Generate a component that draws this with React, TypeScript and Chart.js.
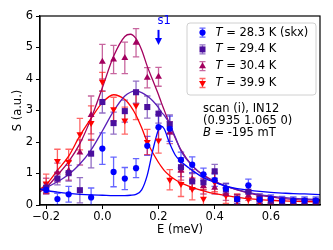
import React, { useEffect, useRef } from 'react';
import { Chart, registerables } from 'chart.js';
Chart.register(...registerables);

// measured energies (meV)
const E = [-0.2, -0.16, -0.12, -0.08, -0.04, 0.0, 0.04, 0.08, 0.12, 0.16, 0.2, 0.24, 0.28, 0.32, 0.36, 0.4, 0.44, 0.48, 0.52, 0.56, 0.6, 0.64, 0.68, 0.72, 0.76];

// T = 28.3 K (skx)
const S_283 = [0.48, 0.19, 0.34, null, 0.24, 1.79, 1.05, 0.84, 1.17, 1.88, 2.47, 2.42, 1.43, 1.28, 0.97, 0.79, 0.52, 0.18, 0.62, 0.17, 0.2, 0.15, 0.14, 0.14, 0.14];
const ERR_283 = [0.12, 0.18, 0.25, 0, 0.3, 0.5, 0.47, 0.35, 0.3, 0.3, 0.4, 0.4, 0.25, 0.25, 0.2, 0.2, 0.15, 0.15, 0.2, 0.12, 0.12, 0.12, 0.12, 0.12, 0.12];
// T = 29.4 K
const S_294 = [0.55, 0.84, 1.01, 0.47, 1.63, 3.27, 2.6, 2.98, 3.58, 3.11, 2.9, 2.56, 1.2, 0.75, 0.72, 1.07, 0.49, 0.19, 0.42, 0.21, 0.14, 0.1, 0.12, 0.12, 0.12];
const ERR_294 = [0.15, 0.2, 0.25, 0.4, 0.45, 0.35, 0.35, 0.35, 0.35, 0.35, 0.3, 0.3, 0.3, 0.25, 0.25, 0.22, 0.2, 0.15, 0.2, 0.15, 0.12, 0.1, 0.1, 0.1, 0.1];
// T = 30.4 K
const S_304 = [0.6, 1.03, 1.09, 1.67, 2.86, 4.55, 4.62, 4.67, 5.15, 4.04, 4.07, 2.3, 1.09, 0.82, 0.6, 0.55, 0.35, 0.15, 0.3, 0.15, 0.1, 0.08, 0.1, 0.08, 0.08];
const ERR_304 = [0.25, 0.3, 0.3, 0.4, 0.6, 0.55, 0.45, 0.5, 0.45, 0.32, 0.3, 0.35, 0.3, 0.3, 0.25, 0.2, 0.2, 0.15, 0.15, 0.12, 0.1, 0.1, 0.1, 0.1, 0.1];
// T = 39.9 K
const S_399 = [0.68, 1.4, 1.37, 2.25, 2.6, 3.91, 3.04, 2.68, 3.16, 2.0, 2.05, 0.8, 0.67, 0.51, 0.2, 0.72, 0.3, 0.15, 0.18, 0.1, 0.12, 0.1, 0.05, 0.08, 0.05];
const ERR_399 = [0.3, 0.37, 0.4, 0.5, 0.55, 0.3, 0.38, 0.43, 0.45, 0.4, 0.4, 0.32, 0.4, 0.35, 0.3, 0.3, 0.25, 0.2, 0.2, 0.15, 0.15, 0.12, 0.12, 0.12, 0.12];

// fit curves
const FIT_E = [-0.222, -0.2, -0.16, -0.12, -0.08, -0.04, 0, 0.04, 0.08, 0.1, 0.12, 0.14, 0.16, 0.18, 0.2, 0.21, 0.22, 0.24, 0.26, 0.28, 0.32, 0.36, 0.4, 0.44, 0.48, 0.52, 0.56, 0.6, 0.64, 0.68, 0.72, 0.775];
const FIT_283 = [0.5, 0.46, 0.41, 0.37, 0.34, 0.32, 0.31, 0.3, 0.3, 0.31, 0.34, 0.48, 0.95, 1.75, 2.4, 2.5, 2.42, 1.95, 1.58, 1.38, 1.1, 0.87, 0.72, 0.6, 0.52, 0.47, 0.43, 0.4, 0.38, 0.36, 0.35, 0.33];
const FIT_294 = [0.5, 0.56, 0.74, 0.97, 1.3, 1.75, 2.35, 2.98, 3.46, 3.58, 3.62, 3.57, 3.46, 3.3, 3.09, 2.95, 2.85, 2.56, 2.15, 1.72, 1.25, 0.93, 0.74, 0.6, 0.49, 0.4, 0.33, 0.28, 0.24, 0.21, 0.19, 0.17];
const FIT_304 = [0.42, 0.55, 0.95, 1.38, 1.95, 2.75, 3.72, 4.72, 5.35, 5.42, 5.28, 4.92, 4.4, 3.95, 3.5, 3.25, 3.02, 2.55, 2.12, 1.75, 1.25, 0.95, 0.75, 0.6, 0.48, 0.38, 0.31, 0.26, 0.21, 0.18, 0.16, 0.15];
const FIT_399 = [0.5, 0.65, 1.1, 1.55, 2.2, 2.75, 3.25, 3.5, 3.35, 3.15, 2.85, 2.45, 2.0, 1.65, 1.35, 1.22, 1.1, 0.93, 0.8, 0.7, 0.56, 0.45, 0.36, 0.3, 0.24, 0.2, 0.17, 0.15, 0.13, 0.12, 0.11, 0.1];

const X_TICKS = [-0.2, 0.0, 0.2, 0.4, 0.6];
const LEGEND_LABELS = ['28.3 K (skx)', '29.4 K', '30.4 K', '39.9 K'];
const NOTES = ['scan (i), IN12', '(0.935 1.065 0)'];
const FIELD = ' = -195 mT';
const S1 = { e: 0.2, label: 's1', textY: 5.83, top: 5.56, tip: 5.08 };
const NOTE_POS = { e: 0.358, y: [3.04, 2.66, 2.27] };

const COLORS = ['#0000ff', '#4b0f9e', '#a3005f', '#ff0000'];
const ERR_COLORS = ['rgba(0,0,255,0.6)', 'rgba(75,15,158,0.6)', 'rgba(163,0,95,0.6)', 'rgba(255,0,0,0.6)'];
const LINE_COLORS = ['#0000ff', '#5a1fb8', '#a3005f', '#ff0000'];
const FONT = 'DejaVu Sans';

const pts = (xs: number[], ys: (number | null)[]) => xs.map((x, i) => ({ x, y: ys[i] }));

function drawMarker(ctx: CanvasRenderingContext2D, kind: number, x: number, y: number, color: string) {
  ctx.fillStyle = color;
  ctx.beginPath();
  if (kind === 0) {
    ctx.arc(x, y, 3.1, 0, Math.PI * 2);
  } else if (kind === 1) {
    ctx.rect(x - 3, y - 3, 6, 6);
  } else if (kind === 2) {
    ctx.moveTo(x, y - 4); ctx.lineTo(x + 3.5, y + 2); ctx.lineTo(x - 3.5, y + 2); ctx.closePath();
  } else {
    ctx.moveTo(x, y + 4); ctx.lineTo(x + 3.5, y - 2); ctx.lineTo(x - 3.5, y - 2); ctx.closePath();
  }
  ctx.fill();
}

const errorBarPlugin = {
  id: 'errbars',
  beforeDatasetsDraw(chart: any) {
    const { ctx, chartArea, scales } = chart;
    const x = scales.x, y = scales.y;
    ctx.save();
    ctx.beginPath();
    ctx.rect(chartArea.left, chartArea.top, chartArea.right - chartArea.left, chartArea.bottom - chartArea.top);
    ctx.clip();
    chart.data.datasets.forEach((ds: any) => {
      if (!ds.errs) return;
      ctx.strokeStyle = ds.errColor;
      ctx.lineWidth = 1.3;
      ds.data.forEach((p: any, i: number) => {
        if (p.y == null) return;
        const e = ds.errs[i];
        const px = x.getPixelForValue(p.x);
        const y1 = y.getPixelForValue(p.y - e);
        const y2 = y.getPixelForValue(p.y + e);
        ctx.beginPath();
        ctx.moveTo(px, y1); ctx.lineTo(px, y2);
        ctx.moveTo(px - 3.2, y1); ctx.lineTo(px + 3.2, y1);
        ctx.moveTo(px - 3.2, y2); ctx.lineTo(px + 3.2, y2);
        ctx.stroke();
      });
    });
    ctx.restore();
  },
};

const decorPlugin = {
  id: 'decor',
  afterDraw(chart: any) {
    const { ctx, chartArea, scales } = chart;
    const x = scales.x, y = scales.y;
    ctx.save();
    // frame
    ctx.strokeStyle = '#000';
    ctx.lineWidth = 1.2;
    ctx.strokeRect(chartArea.left, chartArea.top, chartArea.right - chartArea.left, chartArea.bottom - chartArea.top);

    // s1 arrow and label
    const ax = x.getPixelForValue(S1.e);
    const yTop = y.getPixelForValue(S1.top);
    const yTip = y.getPixelForValue(S1.tip);
    ctx.strokeStyle = '#0000ff';
    ctx.fillStyle = '#0000ff';
    ctx.lineWidth = 2;
    ctx.beginPath();
    ctx.moveTo(ax, yTop); ctx.lineTo(ax, yTip - 5);
    ctx.stroke();
    ctx.beginPath();
    ctx.moveTo(ax - 3.5, yTip - 7); ctx.lineTo(ax + 3.5, yTip - 7); ctx.lineTo(ax, yTip); ctx.closePath();
    ctx.fill();
    ctx.font = `11.5px ${FONT}`;
    ctx.textBaseline = 'middle';
    ctx.textAlign = 'left';
    ctx.fillText(S1.label, ax - 1, y.getPixelForValue(S1.textY));

    // legend
    const lw = 129, lh = 72;
    const lx = chartArea.right - 4 - lw;
    const ly = chartArea.top + 7;
    ctx.beginPath();
    if ((ctx as any).roundRect) (ctx as any).roundRect(lx, ly, lw, lh, 3); else ctx.rect(lx, ly, lw, lh);
    ctx.fillStyle = 'rgba(255,255,255,0.85)';
    ctx.fill();
    ctx.strokeStyle = '#d0d0d0';
    ctx.lineWidth = 1;
    ctx.stroke();
    LEGEND_LABELS.forEach((lab, i) => {
      const ry = ly + 9.6 + i * 16.8;
      const mx = lx + 15.5;
      ctx.strokeStyle = ERR_COLORS[i];
      ctx.lineWidth = 1.3;
      ctx.beginPath();
      ctx.moveTo(mx, ry - 4.5); ctx.lineTo(mx, ry + 4.5);
      ctx.moveTo(mx - 3, ry - 4.5); ctx.lineTo(mx + 3, ry - 4.5);
      ctx.moveTo(mx - 3, ry + 4.5); ctx.lineTo(mx + 3, ry + 4.5);
      ctx.stroke();
      drawMarker(ctx, i, mx, ry, COLORS[i]);
      ctx.fillStyle = '#000';
      ctx.font = `italic 11.5px ${FONT}`;
      const tx = lx + 28.5;
      ctx.fillText('T', tx, ry);
      const tw = ctx.measureText('T').width;
      ctx.font = `11.5px ${FONT}`;
      ctx.fillText(' = ' + lab, tx + tw, ry);
    });

    // notes
    const nx = x.getPixelForValue(NOTE_POS.e);
    ctx.fillStyle = '#000';
    ctx.font = `11.5px ${FONT}`;
    NOTES.forEach((t, i) => ctx.fillText(t, nx, y.getPixelForValue(NOTE_POS.y[i])));
    ctx.font = `italic 11.5px ${FONT}`;
    const by = y.getPixelForValue(NOTE_POS.y[2]);
    ctx.fillText('B', nx, by);
    const bw = ctx.measureText('B').width;
    ctx.font = `11.5px ${FONT}`;
    ctx.fillText(FIELD, nx + bw, by);
    ctx.restore();
  },
};

export default function App() {
  const ref = useRef<HTMLCanvasElement>(null);
  useEffect(() => {
    if (!ref.current) return;
    Chart.defaults.font.family = FONT;
    const markerSets = [
      { d: S_283, e: ERR_283, style: 'circle', r: 3.1, rot: 0, order: 1 },
      { d: S_294, e: ERR_294, style: 'rect', r: 4.3, rot: 0, order: 2 },
      { d: S_304, e: ERR_304, style: 'triangle', r: 4, rot: 0, order: 3 },
      { d: S_399, e: ERR_399, style: 'triangle', r: 4, rot: 180, order: 4 },
    ].map((m, i) => ({
      type: 'line' as const,
      data: pts(E, m.d),
      showLine: false,
      pointStyle: m.style,
      pointRadius: m.r,
      pointRotation: m.rot,
      pointBackgroundColor: COLORS[i],
      pointBorderColor: COLORS[i],
      pointBorderWidth: 0,
      errs: m.e,
      errColor: ERR_COLORS[i],
      order: m.order,
    }));
    const fitSets = [FIT_283, FIT_294, FIT_304, FIT_399].map((f, i) => ({
      type: 'line' as const,
      data: pts(FIT_E, f),
      borderColor: LINE_COLORS[i],
      borderWidth: 1.3,
      pointRadius: 0,
      cubicInterpolationMode: 'monotone' as const,
      order: 10 + i,
    }));
    const chart = new Chart(ref.current, {
      type: 'line',
      data: { datasets: [...markerSets, ...fitSets] as any },
      options: {
        animation: false,
        responsive: false,
        devicePixelRatio: 1,
        events: [],
        layout: { padding: { left: 0, right: 13, top: 16, bottom: 0 } },
        plugins: { legend: { display: false }, tooltip: { enabled: false } },
        scales: {
          x: {
            type: 'linear',
            min: -0.222,
            max: 0.775,
            afterBuildTicks: (s: any) => { s.ticks = X_TICKS.map((v) => ({ value: v })); },
            afterFit: (s: any) => { s.height = 45; },
            ticks: {
              color: '#000',
              font: { size: 11.5, family: FONT },
              padding: 1,
              maxRotation: 0,
              autoSkip: false,
              callback: (v: any) => (v < 0 ? '\u2212' + Math.abs(v).toFixed(1) : Number(v).toFixed(1)),
            },
            grid: { drawOnChartArea: false, drawTicks: true, tickLength: 4, color: '#000', lineWidth: 1 },
            border: { display: true, color: '#000', width: 1.2 },
            title: { display: true, text: 'E (meV)', color: '#000', font: { size: 11.5, family: FONT }, padding: { top: 0, bottom: 13 } },
          },
          y: {
            type: 'linear',
            min: 0,
            max: 6,
            afterFit: (s: any) => { s.width = 40; },
            ticks: { stepSize: 1, color: '#000', font: { size: 11.5, family: FONT }, padding: 3 },
            grid: { drawOnChartArea: false, drawTicks: true, tickLength: 4, color: '#000', lineWidth: 1 },
            border: { display: true, color: '#000', width: 1.2 },
            title: { display: true, text: 'S (a.u.)', color: '#000', font: { size: 11.5, family: FONT }, padding: { top: 11, bottom: 0 } },
          },
        },
      },
      plugins: [errorBarPlugin, decorPlugin],
    });
    return () => chart.destroy();
  }, []);
  return (
    <div style={{ position: 'absolute', left: 0, top: 0, width: 333, height: 250, background: '#fff' }}>
      <canvas ref={ref} width={333} height={250} />
    </div>
  );
}
